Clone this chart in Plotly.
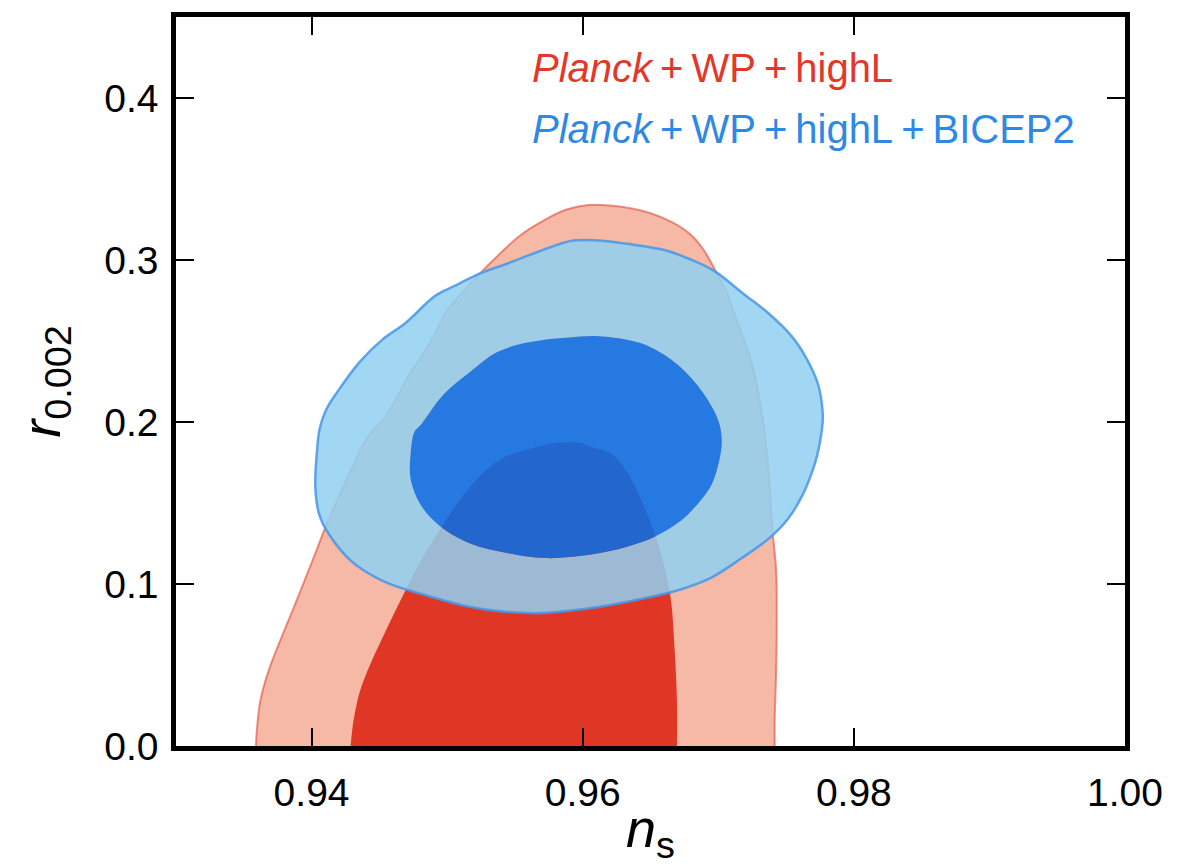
import plotly.graph_objects as go

# ---- contour vertices (n_s, r_0.002) ----
red_outer_ns = [0.93589, 0.93618, 0.93677, 0.93788, 0.93891, 0.93957, 0.94042, 0.94097,
                0.94185, 0.94295, 0.94406, 0.94549, 0.94719, 0.94859, 0.95001, 0.95112, 0.95223,
                0.95366, 0.95536, 0.95704, 0.95874, 0.96040, 0.96272, 0.96496, 0.96666, 0.96805,
                0.96894, 0.96975, 0.97063, 0.97144, 0.97232, 0.97284, 0.97328, 0.97372, 0.97399,
                0.97427, 0.97431, 0.97427, 0.97416, 0.97416]
red_outer_r = [0.000, 0.026, 0.045, 0.069, 0.090, 0.104, 0.122, 0.134,
               0.151, 0.171, 0.190, 0.204, 0.229, 0.247, 0.269, 0.280, 0.290,
               0.302, 0.315, 0.324, 0.331, 0.334, 0.333, 0.329, 0.323, 0.315,
               0.306, 0.294, 0.280, 0.261, 0.241, 0.223, 0.202, 0.169, 0.134,
               0.108, 0.077, 0.047, 0.016, 0.000]

red_inner_ns = [0.94288, 0.94310, 0.94354, 0.94420, 0.94524, 0.94663, 0.94803, 0.94943,
                0.95083, 0.95223, 0.95392, 0.95591, 0.95790, 0.95988, 0.96047, 0.96217, 0.96327,
                0.96415, 0.96496, 0.96555, 0.96610, 0.96651, 0.96680, 0.96695, 0.96695]
red_inner_r = [0.000, 0.016, 0.033, 0.048, 0.067, 0.091, 0.114, 0.133,
               0.151, 0.165, 0.177, 0.183, 0.187, 0.187, 0.185, 0.180, 0.169,
               0.155, 0.139, 0.125, 0.108, 0.090, 0.057, 0.028, 0.000]

blue_outer_ns = [0.94060, 0.94110, 0.94185, 0.94354, 0.94524, 0.94691, 0.94914, 0.95054, 0.95252,
                 0.95451, 0.95701, 0.95929, 0.96121, 0.96327, 0.96610, 0.96805, 0.96975, 0.97173,
                 0.97372, 0.97541, 0.97652, 0.97737, 0.97770, 0.97770, 0.97751, 0.97711, 0.97622,
                 0.97512, 0.97372, 0.97173, 0.96949, 0.96695, 0.96386, 0.96047, 0.95650, 0.95223,
                 0.94803, 0.94524, 0.94295, 0.94126, 0.94056, 0.94028, 0.94038, 0.94060]
blue_outer_r = [0.196, 0.208, 0.218, 0.237, 0.251, 0.261, 0.278, 0.284, 0.292,
                0.298, 0.306, 0.312, 0.312, 0.310, 0.306, 0.300, 0.293, 0.280,
                0.267, 0.253, 0.239, 0.223, 0.206, 0.200, 0.188, 0.174, 0.155,
                0.140, 0.128, 0.116, 0.104, 0.096, 0.090, 0.085, 0.082, 0.085,
                0.094, 0.102, 0.114, 0.131, 0.143, 0.159, 0.180, 0.196]

blue_inner_ns = [0.94730, 0.94759, 0.94803, 0.94973, 0.95171, 0.95366, 0.95591, 0.95871, 0.96121,
                 0.96415, 0.96610, 0.96780, 0.96920, 0.97004, 0.97026, 0.97004, 0.96949, 0.96864,
                 0.96724, 0.96526, 0.96327, 0.96047, 0.95731, 0.95451, 0.95171, 0.94943, 0.94803,
                 0.94730, 0.94730]
blue_inner_r = [0.180, 0.194, 0.198, 0.217, 0.231, 0.243, 0.249, 0.252, 0.253,
                0.249, 0.241, 0.229, 0.214, 0.200, 0.188, 0.175, 0.161, 0.151,
                0.139, 0.129, 0.123, 0.118, 0.116, 0.119, 0.125, 0.136, 0.149,
                0.165, 0.180]

x_ticks = [0.94, 0.96, 0.98, 1.00]
x_ticklabels = ["0.94", "0.96", "0.98", "1.00"]
y_ticks = [0.0, 0.1, 0.2, 0.3, 0.4]
y_ticklabels = ["0.0", "0.1", "0.2", "0.3", "0.4"]
labels = ["<i>Planck</i>\u2009+\u2009WP\u2009+\u2009highL",
          "<i>Planck</i>\u2009+\u2009WP\u2009+\u2009highL\u2009+\u2009BICEP2"]

FONT = "Liberation Sans, Arial, sans-serif"
SM = 1.0

fig = go.Figure()

# red 2-sigma region
fig.add_trace(go.Scatter(x=red_outer_ns, y=red_outer_r, mode="lines", fill="toself",
                         fillcolor="#f5b9a6", line=dict(width=0, shape="spline", smoothing=SM),
                         hoverinfo="skip"))
fig.add_trace(go.Scatter(x=red_outer_ns, y=red_outer_r, mode="lines",
                         line=dict(color="rgba(224,60,45,0.55)", width=2, shape="spline", smoothing=SM),
                         hoverinfo="skip"))
# red 1-sigma region
fig.add_trace(go.Scatter(x=red_inner_ns, y=red_inner_r, mode="lines", fill="toself",
                         fillcolor="#e03626", line=dict(width=0, shape="spline", smoothing=SM),
                         hoverinfo="skip"))

# blue 2-sigma ring (outer boundary + reversed inner boundary as a hole)
ring_x = blue_outer_ns + [None] + blue_inner_ns[::-1]
ring_y = blue_outer_r + [None] + blue_inner_r[::-1]
fig.add_trace(go.Scatter(x=ring_x, y=ring_y, mode="lines", fill="toself",
                         fillcolor="rgba(145,208,241,0.86)",
                         line=dict(width=0, shape="spline", smoothing=SM),
                         hoverinfo="skip"))
fig.add_trace(go.Scatter(x=blue_outer_ns, y=blue_outer_r, mode="lines",
                         line=dict(color="rgba(70,150,232,0.85)", width=2.5, shape="spline", smoothing=SM),
                         hoverinfo="skip"))
# blue 1-sigma region
fig.add_trace(go.Scatter(x=blue_inner_ns, y=blue_inner_r, mode="lines", fill="toself",
                         fillcolor="rgba(4,111,234,0.86)",
                         line=dict(width=0, shape="spline", smoothing=SM),
                         hoverinfo="skip"))

fig.add_annotation(x=0.373, y=0.930, xref="paper", yref="paper", xanchor="left", yanchor="middle",
                   text=labels[0], showarrow=False,
                   font=dict(family=FONT, size=40, color="#e2382a"))
fig.add_annotation(x=0.373, y=0.847, xref="paper", yref="paper", xanchor="left", yanchor="middle",
                   text=labels[1], showarrow=False,
                   font=dict(family=FONT, size=40, color="#2e88e6"))

axis_common = dict(showgrid=False, zeroline=False, showline=True, linecolor="black", linewidth=4.5,
                   mirror="ticks", ticks="inside", ticklen=18, tickwidth=2, tickcolor="black",
                   tickfont=dict(family=FONT, size=39, color="black"))

fig.update_layout(
    width=1187, height=866,
    margin=dict(l=176, r=62, t=13, b=120),
    paper_bgcolor="white", plot_bgcolor="white",
    showlegend=False,
    xaxis=dict(range=[0.93, 1.00], tickvals=x_ticks, ticktext=x_ticklabels,
               ticklabelstandoff=8,
               title=dict(text="<i>n</i><sub>s</sub>", font=dict(family=FONT, size=54, color="black"),
                          standoff=0),
               **axis_common),
    yaxis=dict(range=[0.0, 0.45], tickvals=y_ticks, ticktext=y_ticklabels,
               ticklabelstandoff=5,
               title=dict(text="<i>r</i><sub>0.002</sub>", font=dict(family=FONT, size=54, color="black"),
                          standoff=28),
               **axis_common),
)

fig.write_html("out.html")
